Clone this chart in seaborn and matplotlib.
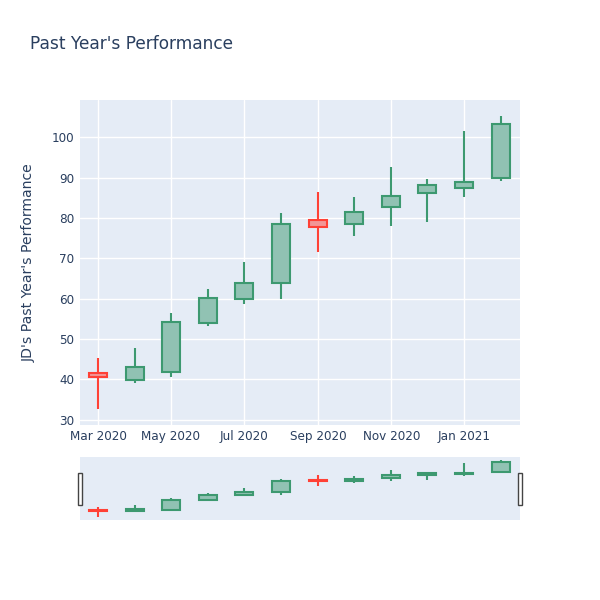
import matplotlib
matplotlib.use("Agg")
import matplotlib.pyplot as plt
import matplotlib.dates as mdates
from matplotlib.patches import Rectangle
import seaborn as sns
import pandas as pd
import numpy as np

dates = ["2020-03-01", "2020-04-01", "2020-05-01", "2020-06-01", "2020-07-01", "2020-08-01",
         "2020-09-01", "2020-10-01", "2020-11-01", "2020-12-01", "2021-01-01", "2021-02-01"]
open_ = [41.5, 39.8, 41.8, 53.9, 59.9, 63.9, 79.5, 78.5, 82.7, 86.1, 87.4, 90.0]
high = [45.3, 47.8, 56.4, 62.4, 69.1, 81.2, 86.4, 85.2, 92.6, 89.6, 101.5, 105.2]
low = [32.7, 39.1, 40.6, 53.2, 58.7, 59.9, 71.6, 75.5, 78.0, 79.0, 85.1, 89.1]
close = [40.5, 43.0, 54.2, 60.1, 63.9, 78.6, 77.7, 81.5, 85.4, 88.1, 88.9, 103.2]

df = pd.DataFrame({"date": pd.to_datetime(dates), "open": open_, "high": high,
                   "low": low, "close": close})
df["up"] = df["close"] >= df["open"]

BG = "#E5ECF6"
TXT = "#2a3f5f"
INC = "#3D9970"
DEC = "#FF4136"
INC_FILL = "#91C2B3"
DEC_FILL = "#F29696"

sns.set_theme(style="darkgrid", rc={
    "axes.facecolor": BG,
    "grid.color": "white",
    "grid.linewidth": 1.0,
    "axes.edgecolor": BG,
    "xtick.color": TXT,
    "ytick.color": TXT,
    "axes.labelcolor": TXT,
})
plt.rcParams["font.family"] = ["DejaVu Sans"]

fig = plt.figure(figsize=(6, 6), dpi=100)
fig.patch.set_facecolor("white")
ax = fig.add_axes([80/600, 1 - 425/600, 440/600, 325/600])
ax2 = fig.add_axes([80/600, 1 - 520/600, 440/600, 63/600])

xmin = pd.Timestamp("2020-02-15")
xmax = pd.Timestamp("2021-02-16 12:00")
lw = 1.5
width = pd.Timedelta(days=15)


def draw(a, lwf=1.0):
    for up, line, fill in [(True, INC, INC_FILL), (False, DEC, DEC_FILL)]:
        sub = df[df["up"] == up]
        if sub.empty:
            continue
        a.vlines(sub["date"], sub["low"], sub["high"], color=line, linewidth=lw * lwf, zorder=2)
        bottom = np.minimum(sub["open"], sub["close"])
        height = np.abs(sub["close"] - sub["open"])
        a.bar(sub["date"], height, bottom=bottom, width=width, color=fill,
              edgecolor=line, linewidth=lw * lwf, zorder=3, align="center")


draw(ax)
ax.set_xlim(xmin, xmax)
ax.set_ylim(28.7, 109.2)
ax.set_yticks(np.arange(30, 101, 10))
ax.xaxis.set_major_locator(mdates.MonthLocator(bymonth=[1, 3, 5, 7, 9, 11]))
ax.xaxis.set_major_formatter(mdates.DateFormatter("%b %Y"))
ax.tick_params(axis="both", length=0, labelsize=8.64, colors=TXT)
ax.tick_params(axis="x", pad=3.5)
ax.tick_params(axis="y", pad=4)
ax.set_xlabel("")
ax.set_ylabel("JD's Past Year's Performance", fontsize=10.08, color=TXT, labelpad=11.5)
for s in ax.spines.values():
    s.set_visible(False)
ax.grid(True, color="white", linewidth=1.0)
ax.set_axisbelow(True)

draw(ax2)
ax2.set_xlim(xmin, xmax)
ax2.set_ylim(28.5, 109.0)
ax2.set_xticks([])
ax2.set_yticks([])
ax2.grid(False)
for s in ax2.spines.values():
    s.set_visible(False)

# range slider grab handles
for xl in [77.5/600, 518/600]:
    fig.patches.append(Rectangle((xl, 1 - 505/600), 4/600, 32/600, transform=fig.transFigure,
                                 facecolor="white", edgecolor="#444444", linewidth=1.0, zorder=5))

fig.text(30/600, 1 - 44/600, "Past Year's Performance", fontsize=12.24, color=TXT,
         ha="left", va="center")

fig.savefig("out.png", dpi=100, facecolor="white")
